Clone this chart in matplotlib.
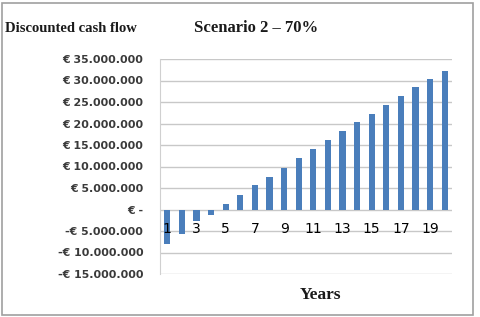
import matplotlib.pyplot as plt
from matplotlib.patches import Rectangle

years = list(range(1, 21))
# discounted cash flow per year, in euro
cash_flow = [-8.0e6, -5.7e6, -2.7e6, -1.2e6, 1.2e6, 3.3e6, 5.6e6, 7.6e6, 9.7e6, 11.9e6,
             14.0e6, 16.2e6, 18.3e6, 20.4e6, 22.2e6, 24.3e6, 26.4e6, 28.4e6, 30.3e6, 32.3e6]

y_ticks = [35e6, 30e6, 25e6, 20e6, 15e6, 10e6, 5e6, 0, -5e6, -10e6, -15e6]
y_labels = ['€ 35.000.000', '€ 30.000.000', '€ 25.000.000', '€ 20.000.000', '€ 15.000.000',
            '€ 10.000.000', '€ 5.000.000', '€ -', '-€ 5.000.000', '-€ 10.000.000', '-€ 15.000.000']
x_ticks = [1, 3, 5, 7, 9, 11, 13, 15, 17, 19]

fig = plt.figure(figsize=(4.8, 3.17), dpi=100)
fig.patch.set_facecolor('white')

# outer frame
fig.add_artist(Rectangle((2 / 480, 2 / 317), 471 / 480, 312 / 317, transform=fig.transFigure,
                         fill=False, edgecolor='#a0a0a0', linewidth=1.2))

ax = fig.add_axes([160 / 480, 1 - 274 / 317, 292 / 480, 215 / 317])
ax.set_xlim(0.5, 20.5)
ax.set_ylim(-15e6, 35e6)

# gridlines drawn by hand so that the axis labels can sit above the bars
ax.hlines(y_ticks, 0.5, 20.5, color='#c8c8c8', linewidth=1, zorder=0)
ax.bar(years, cash_flow, width=0.42, color='#4a7ebb', zorder=3)

ax.set_yticks(y_ticks)
ax.set_yticklabels(y_labels, fontfamily='DejaVu Sans', fontweight='bold', fontsize=7.9, color='#3a3a3a')
ax.tick_params(axis='y', length=0, pad=12)

ax.set_xticks(x_ticks)
ax.set_xticklabels([str(x) for x in x_ticks], fontfamily='Liberation Serif', fontsize=9, color='#111111')
ax.spines['bottom'].set_position(('data', 0))
ax.tick_params(axis='x', length=0, pad=9)
ax.xaxis.set_zorder(5)

for s in ['top', 'right', 'bottom']:
    ax.spines[s].set_visible(False)
ax.spines['left'].set_color('#d0d0d0')

fig.text(5 / 480, 1 - 28 / 317, 'Discounted cash flow', fontfamily='Liberation Serif',
         fontweight='bold', fontsize=10.5, va='center', ha='left', color='#1a1a1a')
fig.text(256 / 480, 1 - 28 / 317, 'Scenario 2 – 70%', fontfamily='Liberation Serif',
         fontweight='bold', fontsize=12, va='center', ha='center', color='#1a1a1a')
fig.text(321 / 480, 1 - 295 / 317, 'Years', fontfamily='Liberation Serif',
         fontweight='bold', fontsize=12.5, va='center', ha='center', color='#1a1a1a')

fig.savefig('out.png', dpi=100)
